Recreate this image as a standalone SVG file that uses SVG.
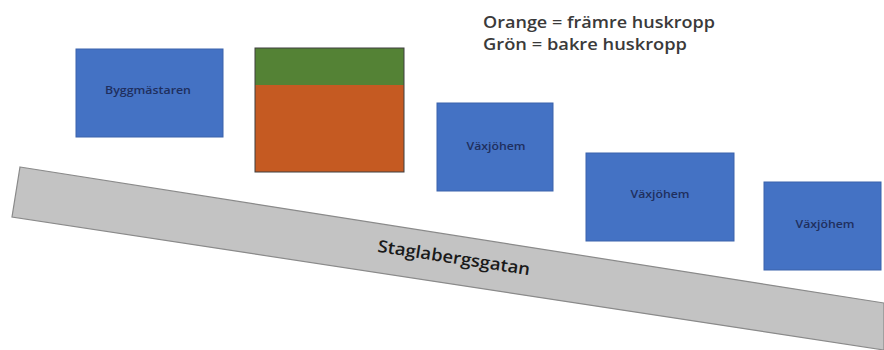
<svg xmlns="http://www.w3.org/2000/svg" width="884" height="350" viewBox="0 0 884 350">
<style>
.b{fill:#4472C4;stroke:#3b63ab;stroke-width:1}
.l{font-family:"Open Sans","Liberation Sans",sans-serif;font-size:11px;font-weight:600;fill:#1f2f5e;text-anchor:middle;dominant-baseline:central}
.leg{font-family:"Open Sans","Liberation Sans",sans-serif;font-size:17px;font-weight:600;fill:#3a3a3a}
</style>
<rect width="884" height="350" fill="#fff"/>
<g id="road">
<polygon points="20,167 884,303 884,350 12,217" fill="#c3c3c3" stroke="#8a8a8a" stroke-width="1.2"/>
<text x="454" y="257" transform="rotate(8.8 454 257)" font-family="Open Sans,Liberation Sans,sans-serif" font-size="17" font-weight="600" fill="#1a1a1a" text-anchor="middle" dominant-baseline="central" textLength="154" lengthAdjust="spacingAndGlyphs">Staglabergsgatan</text>
</g>
<g id="byggmastaren">
<rect class="b" x="76" y="49" width="147" height="88"/>
<text class="l" x="148" y="89" textLength="86" lengthAdjust="spacingAndGlyphs">Byggmästaren</text>
</g>
<g id="huskropp">
<rect x="255" y="48" width="149" height="37" fill="#548235"/>
<rect x="255" y="85" width="149" height="87" fill="#C55A22"/>
<rect x="255" y="48" width="149" height="124" fill="none" stroke="#3f3f3f" stroke-width="1"/>
</g>
<g id="vaxjohem1">
<rect class="b" x="437" y="103" width="116" height="88"/>
<text class="l" x="496" y="145" textLength="59" lengthAdjust="spacingAndGlyphs">Växjöhem</text>
</g>
<g id="vaxjohem2">
<rect class="b" x="586" y="153" width="148" height="88"/>
<text class="l" x="660" y="193" textLength="59" lengthAdjust="spacingAndGlyphs">Växjöhem</text>
</g>
<g id="vaxjohem3">
<rect class="b" x="764" y="182" width="117" height="88"/>
<text class="l" x="825" y="223" textLength="59" lengthAdjust="spacingAndGlyphs">Växjöhem</text>
</g>
<g id="legend">
<text class="leg" x="483" y="28" textLength="232" lengthAdjust="spacingAndGlyphs">Orange = främre huskropp</text>
<text class="leg" x="483" y="50" textLength="204" lengthAdjust="spacingAndGlyphs">Grön = bakre huskropp</text>
</g>
<g id="connectors"/>
</svg>
